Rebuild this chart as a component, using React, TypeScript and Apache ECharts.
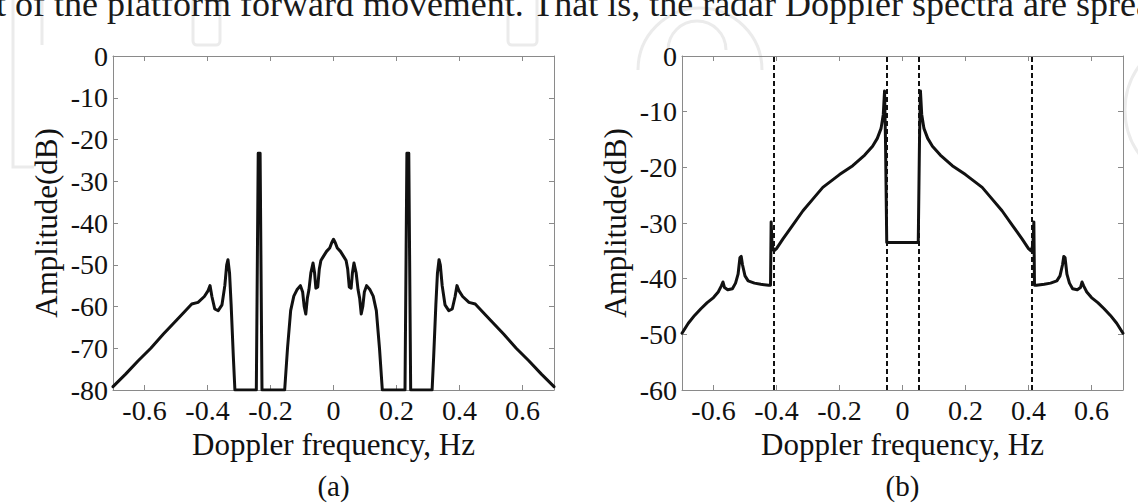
import React, { useEffect, useRef } from "react";
import * as echarts from "echarts";

// ---------- data ----------
const xTickValues = [-0.6, -0.4, -0.2, 0, 0.2, 0.4, 0.6];
const panelLabels = ["(a)", "(b)"];
const xAxisName = "Doppler frequency, Hz";
const yAxisName = "Amplitude(dB)";
const topLine =
  "t of the platform forward movement. That is, the radar Doppler spectra are spread";

// panel (a): Doppler spectrum, left half (mirrored for right half)
const spectrumAFreqLeft = [
  -0.7, -0.66, -0.62, -0.58, -0.54, -0.5, -0.47, -0.45, -0.43, -0.41, -0.398, -0.392,
  -0.386, -0.377, -0.366, -0.354, -0.345, -0.339, -0.335, -0.33, -0.325, -0.318, -0.313,
  -0.245, -0.239, -0.233, -0.227,
  -0.155, -0.146, -0.136, -0.126, -0.116, -0.105, -0.098, -0.093, -0.088, -0.083, -0.078,
  -0.072, -0.065, -0.06, -0.056, -0.05, -0.045, -0.04, -0.032, -0.022, -0.012, -0.006, 0,
];
const spectrumADbLeft = [
  -79.2, -76.2, -73.0, -70.0, -66.6, -63.4, -61.0, -59.4, -59.0, -57.6, -56.2, -55.0,
  -57.6, -60.6, -61.0, -59.6, -55.0, -50.0, -48.8, -52.0, -59.5, -72.0, -80,
  -80, -23.3, -23.3, -80,
  -80, -70.0, -61.0, -57.5, -56.0, -55.0, -56.5, -60.0, -61.8, -58.0, -56.0,
  -52.0, -49.6, -52.0, -55.6, -55.3, -51.0, -49.0, -48.0, -46.8, -46.0, -44.8, -43.9,
];

// panel (b): Doppler spectrum, left half (mirrored for right half)
const spectrumBFreqLeft = [
  -0.7, -0.68, -0.66, -0.64, -0.62, -0.6, -0.585, -0.575, -0.57, -0.565, -0.555, -0.54,
  -0.53, -0.522, -0.516, -0.512, -0.508, -0.5, -0.49, -0.47, -0.45, -0.425, -0.419,
  -0.417, -0.414, -0.408, -0.4, -0.38, -0.35, -0.316, -0.28, -0.253, -0.2, -0.158,
  -0.12, -0.095, -0.08, -0.068, -0.061, -0.057, -0.054, -0.05, 0,
];
const spectrumBDbLeft = [
  -49.8, -48.0, -46.6, -45.4, -44.3, -43.4, -42.4, -41.3, -40.6, -41.6, -42.0, -41.8,
  -40.8, -39.2, -36.2, -36.0, -37.5, -39.5, -40.4, -40.8, -41.0, -41.2, -41.2,
  -29.8, -34.0, -35.0, -34.6, -32.9, -30.5, -27.8, -25.4, -23.6, -21.3, -19.7,
  -17.8, -16.2, -14.8, -13.0, -10.5, -6.3, -15.0, -33.5, -33.5,
];

// dashed markers in panel (b)
const markerFreqs = [-0.415, -0.052, 0.052, 0.415];

// ---------- helpers ----------
function mirrorPairs(freqLeft: number[], dbLeft: number[]): number[][] {
  const left = freqLeft.map((f, i) => [f, dbLeft[i]]);
  const right = left
    .slice(0, left.length - 1)
    .reverse()
    .map(([f, d]) => [-f, d]);
  return [...left, ...right];
}

const FONT = '"Liberation Serif", "Times New Roman", serif';
const AXIS_GRAY = "#8a8a8a";
const INK = "#111111";

function xAxes(gridIndex: number) {
  const common = {
    gridIndex,
    type: "value" as const,
    min: -0.7,
    max: 0.7,
    splitLine: { show: false },
    axisLine: { show: true, onZero: false, lineStyle: { color: AXIS_GRAY, width: 1 } },
    axisTick: {
      show: true,
      inside: true,
      length: 5,
      customValues: xTickValues,
      lineStyle: { color: AXIS_GRAY, width: 1 },
    },
  };
  return [
    {
      ...common,
      position: "bottom",
      axisLabel: {
        show: true,
        customValues: xTickValues,
        formatter: (v: number) => String(v),
        fontFamily: FONT,
        fontSize: 28,
        color: INK,
        margin: 6,
      },
      name: xAxisName,
      nameLocation: "middle",
      nameGap: 33,
      nameTextStyle: { fontFamily: FONT, fontSize: 31, color: INK },
    },
    { ...common, position: "top", axisLabel: { show: false } },
  ];
}

function yAxes(gridIndex: number, min: number) {
  const common = {
    gridIndex,
    type: "value" as const,
    min,
    max: 0,
    interval: 10,
    splitLine: { show: false },
    axisLine: { show: true, onZero: false, lineStyle: { color: AXIS_GRAY, width: 1 } },
    axisTick: { show: true, inside: true, length: 5, lineStyle: { color: AXIS_GRAY, width: 1 } },
  };
  return [
    {
      ...common,
      position: "left",
      axisLabel: {
        show: true,
        fontFamily: FONT,
        fontSize: 28,
        color: INK,
        margin: 5,
      },
      name: yAxisName,
      nameLocation: "middle",
      nameGap: 51,
      nameRotate: 90,
      nameTextStyle: { fontFamily: FONT, fontSize: 31, color: INK },
    },
    { ...common, position: "right", axisLabel: { show: false } },
  ];
}

const watermark = "#ebebeb";

export default function App() {
  const ref = useRef<HTMLDivElement>(null);

  useEffect(() => {
    if (!ref.current) return;
    const chart = echarts.init(ref.current, undefined, { renderer: "svg" });

    const dataA = mirrorPairs(spectrumAFreqLeft, spectrumADbLeft);
    const dataB = mirrorPairs(spectrumBFreqLeft, spectrumBDbLeft);

    const lineStyle = { color: INK, width: 3, join: "round", cap: "round" };

    chart.setOption({
      animation: false,
      backgroundColor: "#ffffff",
      grid: [
        { left: 113, top: 56, width: 441, height: 334 },
        { left: 682, top: 56, width: 441, height: 334 },
      ],
      xAxis: [...xAxes(0), ...xAxes(1)],
      yAxis: [...yAxes(0, -80), ...yAxes(1, -60)],
      series: [
        {
          type: "line",
          xAxisIndex: 0,
          yAxisIndex: 0,
          data: dataA,
          showSymbol: false,
          symbol: "none",
          lineStyle,
          silent: true,
          z: 3,
        },
        {
          type: "line",
          xAxisIndex: 2,
          yAxisIndex: 2,
          data: dataB,
          showSymbol: false,
          symbol: "none",
          lineStyle,
          silent: true,
          z: 3,
          markLine: {
            silent: true,
            symbol: "none",
            label: { show: false },
            lineStyle: { color: INK, width: 2, type: [5, 3] },
            data: markerFreqs.map((f) => ({ xAxis: f })),
            z: 2,
          },
        },
      ],
      graphic: [
        // faint background watermark shapes
        { type: "polyline", shape: { points: [[13, -5], [13, 167], [34, 167]] }, style: { stroke: watermark, lineWidth: 3, fill: "none" }, z: -10 },
        { type: "polyline", shape: { points: [[42, -5], [42, 45]] }, style: { stroke: watermark, lineWidth: 3, fill: "none" }, z: -10 },
        { type: "rect", shape: { x: 193, y: -20, width: 27, height: 65, r: 4 }, style: { stroke: watermark, lineWidth: 3, fill: "none" }, z: -10 },
        { type: "rect", shape: { x: 508, y: -20, width: 29, height: 65, r: 4 }, style: { stroke: watermark, lineWidth: 3, fill: "none" }, z: -10 },
        { type: "arc", shape: { cx: 700, cy: 70, r: 62, startAngle: Math.PI, endAngle: 2 * Math.PI }, style: { stroke: watermark, lineWidth: 3, fill: "none" }, z: -10 },
        { type: "arc", shape: { cx: 697, cy: 50, r: 29, startAngle: Math.PI, endAngle: 2 * Math.PI }, style: { stroke: watermark, lineWidth: 3, fill: "none" }, z: -10 },
        { type: "arc", shape: { cx: 1200, cy: 110, r: 75, startAngle: Math.PI * 0.75, endAngle: Math.PI * 1.25 }, style: { stroke: watermark, lineWidth: 3, fill: "none" }, z: -10 },
        // top text line (cut off at top of the image, as in the source page)
        {
          type: "text",
          x: -4,
          y: -14,
          style: {
            text: topLine,
            font: `36px ${FONT}`,
            fill: "#1a1a1a",
            verticalAlign: "top",
            align: "left",
          },
          z: 10,
        },
        {
          type: "text",
          x: 333.5,
          y: 486,
          style: { text: panelLabels[0], font: `29px ${FONT}`, fill: INK, align: "center", verticalAlign: "middle" },
        },
        {
          type: "text",
          x: 902.5,
          y: 486,
          style: { text: panelLabels[1], font: `29px ${FONT}`, fill: INK, align: "center", verticalAlign: "middle" },
        },
      ],
    });

    return () => chart.dispose();
  }, []);

  return (
    <div
      ref={ref}
      style={{ position: "fixed", left: 0, top: 0, width: 1138, height: 504, background: "#fff" }}
    />
  );
}
